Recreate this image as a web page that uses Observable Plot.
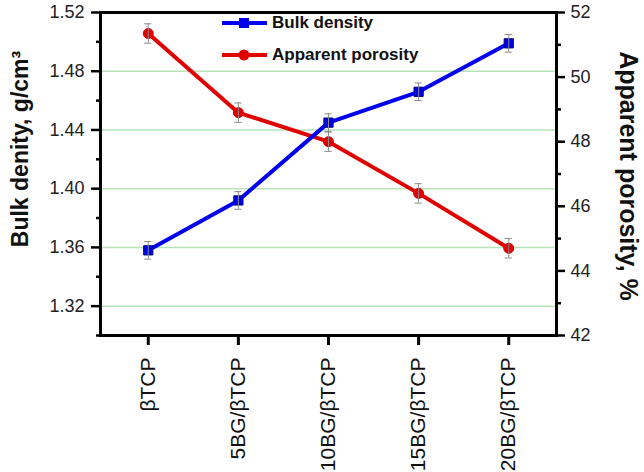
<!DOCTYPE html>
<html>
<head>
<meta charset="utf-8">
<script src="https://cdn.jsdelivr.net/npm/d3@7"></script>
<script src="https://cdn.jsdelivr.net/npm/@observablehq/plot@0.6"></script>
<style>
  html, body { margin: 0; padding: 0; background: #fff; }
  #wrap { position: relative; width: 644px; height: 472px; font-family: "Liberation Sans", Arial, sans-serif; overflow: hidden; }
  .leg { position: absolute; left: 220px; display: flex; align-items: center; font-weight: bold; font-size: 17px; color: #111; }
  .leg svg { margin-right: 2px; }
</style>
</head>
<body>
<div id="wrap"></div>
<script>
const categories = ["βTCP", "5BG/βTCP", "10BG/βTCP", "15BG/βTCP", "20BG/βTCP"];
const bulkDensity = [1.358, 1.392, 1.445, 1.466, 1.499];
const bulkErr = [0.006, 0.006, 0.006, 0.006, 0.006];
const porosity = [51.35, 48.9, 48.0, 46.4, 44.7];
const porosityErr = [0.3, 0.3, 0.3, 0.3, 0.3];
const leftTicks = [1.32, 1.36, 1.40, 1.44, 1.48, 1.52];
const leftMinor = [1.30, 1.34, 1.38, 1.42, 1.46, 1.50];
const gridTicks = [1.32, 1.36, 1.40, 1.44, 1.48];
const rightTicks = [42, 44, 46, 48, 50, 52];
const rightMinor = [43, 45, 47, 49, 51];
const leftDomain = [1.30, 1.52];
const rightDomain = [42, 52];

const blue = "#0000ee";
const red = "#e00000";

// map porosity onto the left (bulk density) scale
const toLeft = p => leftDomain[0] + (p - rightDomain[0]) * (leftDomain[1] - leftDomain[0]) / (rightDomain[1] - rightDomain[0]);
const fromLeft = v => rightDomain[0] + (v - leftDomain[0]) * (rightDomain[1] - rightDomain[0]) / (leftDomain[1] - leftDomain[0]);

const rows = categories.map((c, i) => ({
  i, c,
  bd: bulkDensity[i], bdLo: bulkDensity[i] - bulkErr[i], bdHi: bulkDensity[i] + bulkErr[i],
  ap: toLeft(porosity[i]), apLo: toLeft(porosity[i] - porosityErr[i]), apHi: toLeft(porosity[i] + porosityErr[i])
}));
const capW = 0.04;
const errGrey = "#8a8a8a";

const plot = Plot.plot({
  width: 644,
  height: 472,
  marginLeft: 100,
  marginRight: 88,
  marginTop: 12,
  marginBottom: 137,
  style: { fontFamily: "Liberation Sans, Arial, sans-serif", fontSize: "18px", color: "#111", background: "transparent", overflow: "visible" },
  x: { type: "linear", domain: [-0.53, categories.length - 1 + 0.53], axis: null },
  y: { domain: leftDomain, axis: null },
  marks: [
    Plot.ruleY(gridTicks, { stroke: "#b9e2b9", strokeWidth: 1.5 }),
    // left axis
    Plot.axisY(leftTicks, { anchor: "left", tickSize: 9, tickPadding: 7, strokeWidth: 2.5, stroke: "#000", tickFormat: d3.format(".2f"), fontSize: 18, fill: "#222", label: null }),
    Plot.axisY(leftMinor, { anchor: "left", tickSize: 4, strokeWidth: 2.5, stroke: "#000", tickFormat: () => "", label: null }),
    // right axis
    Plot.axisY(rightTicks.map(toLeft), { anchor: "right", tickSize: 8, tickPadding: 6, strokeWidth: 2.5, stroke: "#000", tickFormat: v => d3.format("d")(Math.round(fromLeft(v))), fontSize: 18, fill: "#222", label: null }),
    Plot.axisY(rightMinor.map(toLeft), { anchor: "right", tickSize: 4, strokeWidth: 2.5, stroke: "#000", tickFormat: () => "", label: null }),
    // x axis
    Plot.axisX(d3.range(categories.length), { anchor: "bottom", tickSize: 10, tickPadding: 12, strokeWidth: 3, stroke: "#000", tickRotate: -90, tickFormat: i => categories[i], fontSize: 21, fill: "#111", label: null }),
    Plot.frame({ stroke: "#000", strokeWidth: 3 }),
    // porosity series
    Plot.line(rows, { x: "i", y: "ap", stroke: red, strokeWidth: 4 }),
    Plot.dot(rows, { x: "i", y: "ap", r: 5, fill: red, stroke: red, strokeWidth: 1 }),
    // bulk density series
    Plot.line(rows, { x: "i", y: "bd", stroke: blue, strokeWidth: 4 }),
    Plot.dot(rows, { x: "i", y: "bd", symbol: "square", r: 5.2, fill: blue, stroke: "#00008a", strokeWidth: 1 }),
    // error bars
    Plot.ruleX(rows, { x: "i", y1: "bdLo", y2: "bdHi", stroke: errGrey, strokeWidth: 1 }),
    Plot.ruleY(rows, { y: "bdLo", x1: d => d.i - capW, x2: d => d.i + capW, stroke: errGrey, strokeWidth: 1 }),
    Plot.ruleY(rows, { y: "bdHi", x1: d => d.i - capW, x2: d => d.i + capW, stroke: errGrey, strokeWidth: 1 }),
    Plot.ruleX(rows, { x: "i", y1: "apLo", y2: "apHi", stroke: errGrey, strokeWidth: 1 }),
    Plot.ruleY(rows, { y: "apLo", x1: d => d.i - capW, x2: d => d.i + capW, stroke: errGrey, strokeWidth: 1 }),
    Plot.ruleY(rows, { y: "apHi", x1: d => d.i - capW, x2: d => d.i + capW, stroke: errGrey, strokeWidth: 1 }),
    // axis titles
    Plot.text(["Bulk denity, g/cm³"], { frameAnchor: "left", textAnchor: "middle", dx: -80, dy: -25, rotate: -90, fontWeight: "bold", fontSize: 23, fill: "#111" }),
    Plot.text(["Apparent porosity, %"], { frameAnchor: "right", textAnchor: "middle", dx: 71, dy: 2, rotate: 90, fontWeight: "bold", fontSize: 25, fill: "#111" })
  ]
});

const wrap = document.getElementById("wrap");
wrap.appendChild(plot);

// legend
const legendItems = [
  { label: "Bulk density", color: blue, symbol: "square", top: 12 },
  { label: "Apparent porosity", color: red, symbol: "circle", top: 44 }
];
for (const it of legendItems) {
  const div = document.createElement("div");
  div.className = "leg";
  div.style.top = it.top + "px";
  const marker = it.symbol === "square"
    ? `<rect x="19" y="6" width="10" height="10" fill="${it.color}"/>`
    : `<circle cx="24" cy="11" r="5.5" fill="${it.color}"/>`;
  div.innerHTML = `<svg width="50" height="22"><line x1="2" y1="11" x2="47" y2="11" stroke="${it.color}" stroke-width="4"/>${marker}</svg><span>${it.label}</span>`;
  wrap.appendChild(div);
}
</script>
</body>
</html>
